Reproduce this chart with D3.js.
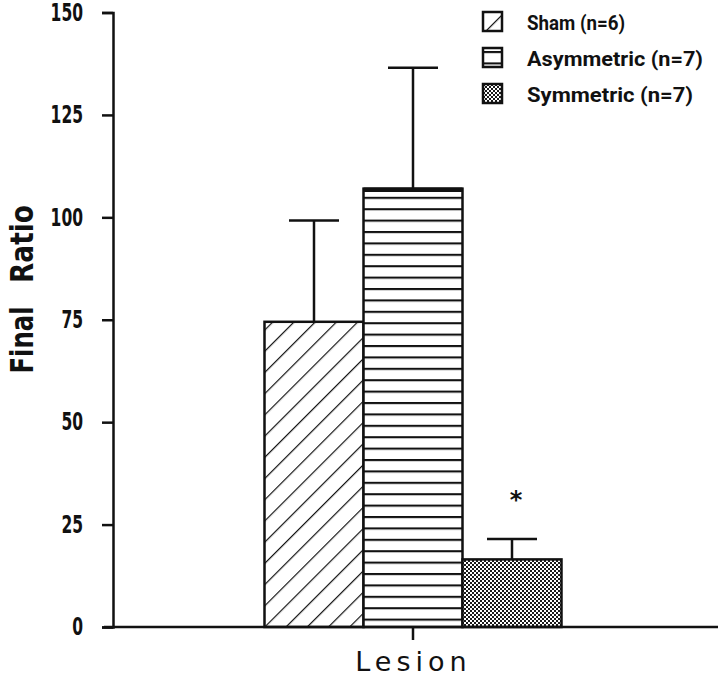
<!DOCTYPE html>
<meta charset="utf-8">
<style>
body { margin: 0; background: #fff; }
text { font-family: "DejaVu Sans", sans-serif; fill: #111; }
.axis path, .axis line { stroke: #111; stroke-width: 2.5px; }
.axis text { font-size: 24px; font-weight: bold; }
.legend text { font-family: Roboto, "DejaVu Sans", sans-serif; font-size: 21px; font-weight: bold; }
</style>
<svg width="720" height="679"></svg>
<script src="https://d3js.org/d3.v7.min.js"></script>
<script>

var categories = ["Lesion"];
var series = ["Sham (n=6)", "Asymmetric (n=7)", "Symmetric (n=7)"];
var means = [74.5, 107, 16.5];
var sems = [24.7, 29.5, 5];
var yTicks = [0, 25, 50, 75, 100, 125, 150];
var fills = ["url(#diag)", "url(#horiz)", "url(#dots)"];
var legendWidths = [98, 176, 166];

var svg = d3.select("svg");

// patterns
var defs = svg.append("defs");
defs.append("pattern")
  .attr("id", "diag").attr("patternUnits", "userSpaceOnUse")
  .attr("width", 15).attr("height", 15)
  .attr("patternTransform", "rotate(45)")
  .append("line").attr("x1", 0).attr("y1", 0).attr("x2", 0).attr("y2", 15)
  .attr("stroke", "#111").attr("stroke-width", 2.4);
var hp = defs.append("pattern")
  .attr("id", "horiz").attr("patternUnits", "userSpaceOnUse")
  .attr("width", 20).attr("height", 11.4).attr("y", 3);
hp.append("rect").attr("width", 20).attr("height", 11.4).attr("fill", "#fff");
hp.append("line").attr("x1", 0).attr("x2", 20).attr("y1", 1).attr("y2", 1)
  .attr("stroke", "#111").attr("stroke-width", 2.2);
var dp = defs.append("pattern")
  .attr("id", "dots").attr("patternUnits", "userSpaceOnUse")
  .attr("width", 4).attr("height", 4);
dp.append("rect").attr("width", 4).attr("height", 4).attr("fill", "#fff");
dp.append("rect").attr("width", 2).attr("height", 2).attr("fill", "#1a1a1a");
dp.append("rect").attr("x", 2).attr("y", 2).attr("width", 2).attr("height", 2).attr("fill", "#1a1a1a");

var y = d3.scaleLinear().domain([0, 150]).range([627, 12.5]);
var x0 = d3.scaleBand().domain(categories).range([108, 718]);
var groupW = 297;
var x1 = d3.scaleBand().domain(series).range([0, groupW]);
var gx = x0(categories[0]) + x0.bandwidth() / 2 - groupW / 2;

// bars
var data = series.map(function(s, i) { return {s: s, m: means[i], e: sems[i], f: fills[i]}; });
var bars = svg.append("g");
bars.selectAll("rect").data(data).enter().append("rect")
  .attr("x", function(d) { return gx + x1(d.s); })
  .attr("y", function(d) { return y(d.m); })
  .attr("width", x1.bandwidth())
  .attr("height", function(d) { return y(0) - y(d.m); })
  .attr("fill", function(d) { return d.f; })
  .attr("stroke", "#111").attr("stroke-width", 2.5);
// thicker top on asymmetric bar
bars.append("line")
  .attr("x1", gx + x1(series[1])).attr("x2", gx + x1(series[1]) + x1.bandwidth())
  .attr("y1", y(means[1]) + 1).attr("y2", y(means[1]) + 1)
  .attr("stroke", "#111").attr("stroke-width", 4.5);

// error bars
var eb = svg.append("g").attr("stroke", "#111").attr("stroke-width", 2.5);
data.forEach(function(d) {
  var cx = gx + x1(d.s) + x1.bandwidth() / 2;
  eb.append("line").attr("x1", cx).attr("x2", cx).attr("y1", y(d.m)).attr("y2", y(d.m + d.e));
  eb.append("line").attr("x1", cx - 25).attr("x2", cx + 25).attr("y1", y(d.m + d.e)).attr("y2", y(d.m + d.e));
});
svg.append("text")
  .attr("x", gx + x1(series[2]) + x1.bandwidth() / 2 + 4)
  .attr("y", y(means[2] + sems[2]) - 31)
  .attr("text-anchor", "middle").style("font-size", "24px").style("font-weight", "bold")
  .text("*");

// axes
svg.append("g").attr("class", "axis")
  .attr("transform", "translate(113,0)")
  .call(d3.axisLeft(y).tickValues(yTicks).tickSize(11).tickPadding(19).tickSizeOuter(11))
  .selectAll("text")
  .attr("textLength", function(d) { return String(d).length * 10.8; })
  .attr("lengthAdjust", "spacingAndGlyphs");
svg.append("g").attr("class", "axis")
  .attr("transform", "translate(0,627)")
  .call(d3.axisBottom(x0).tickSize(13).tickSizeOuter(0).tickFormat(""))
  .select(".domain").attr("d", "M104,0H718");

// axis titles
svg.append("text")
  .attr("x", 413.5).attr("y", 671)
  .attr("text-anchor", "middle")
  .style("font-size", "27px").style("letter-spacing", "5px")
  .text(categories[0]);
svg.append("text")
  .attr("transform", "translate(33,244) rotate(-90)")
  .attr("text-anchor", "middle")
  .attr("textLength", 78).attr("lengthAdjust", "spacingAndGlyphs")
  .style("font-size", "32px").style("font-weight", "bold")
  .text("Ratio");
svg.append("text")
  .attr("transform", "translate(33,340) rotate(-90)")
  .attr("text-anchor", "middle")
  .attr("textLength", 67).attr("lengthAdjust", "spacingAndGlyphs")
  .style("font-size", "32px").style("font-weight", "bold")
  .text("Final");

// legend
var lg = svg.append("g").attr("class", "legend").attr("transform", "translate(483,12)");
series.forEach(function(s, i) {
  var row = lg.append("g").attr("transform", "translate(0," + (i * 36) + ")");
  row.append("rect").attr("width", 19).attr("height", 19)
    .attr("fill", fills[i]).attr("stroke", "#111").attr("stroke-width", 2.5);
  row.append("text").attr("x", 44).attr("y", 18)
    .attr("textLength", legendWidths[i]).attr("lengthAdjust", "spacingAndGlyphs")
    .text(s);
});

</script>
